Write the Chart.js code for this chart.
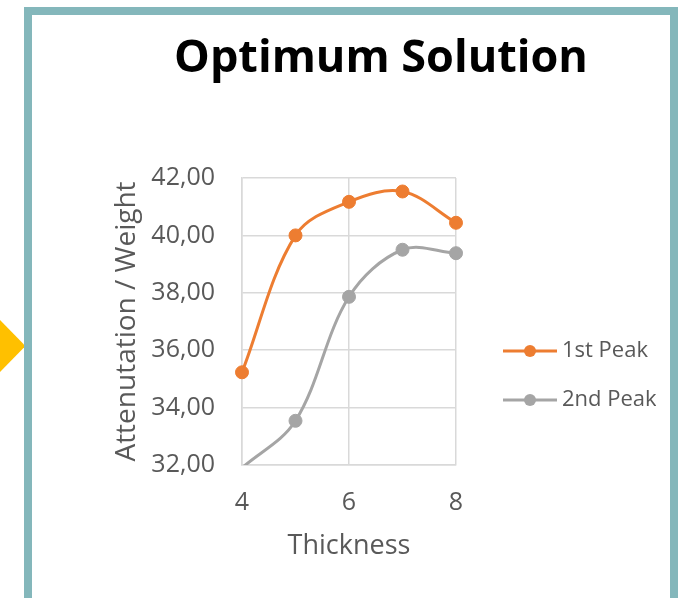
<!DOCTYPE html>
<html>
<head>
<meta charset="utf-8">
<script src="https://cdn.jsdelivr.net/npm/chart.js@4.4.1/dist/chart.umd.min.js"></script>
<style>
  html, body { margin: 0; padding: 0; background: #ffffff; width: 679px; height: 598px; overflow: hidden; }
  #tab { position: absolute; left: 0; top: 320px; width: 24px; height: 52px; background: #ffc000;
         clip-path: polygon(0 0, 100% 47%, 100% 53%, 0 100%); }
  #wrap { position: absolute; left: 0; top: 0; width: 679px; height: 598px; }
  #frame { position: absolute; left: 24px; top: 7px; width: 654px; height: 700px;
           border: 8px solid #84b7bb; box-sizing: border-box; pointer-events: none; }
</style>
</head>
<body>
<div id="tab"></div>
<div id="wrap"><canvas id="chart" width="679" height="598"></canvas></div>
<div id="frame"></div>
<script>
// Thickness values and the two peak series
const thickness = [4, 5, 6, 7, 8];
const firstPeak = [35.23, 40.00, 41.17, 41.53, 40.44];
const secondPeak = [31.90, 33.54, 37.86, 39.50, 39.38];

// Axis tick positions
const xTicks = [4, 6, 8];
const yTicks = [32, 34, 36, 38, 40, 42];

const seriesNames = ['1st Peak', '2nd Peak'];
const seriesColors = ['#ED7D31', '#A5A5A5'];

const FONT = 'Open Sans';
const TEXT = '#595959';
const GRID = '#d9d9d9';

// Legend glyph: a short line with a dot in its middle
function legendGlyph(color) {
  const c = document.createElement('canvas');
  c.width = 80; c.height = 16;
  const g = c.getContext('2d');
  g.strokeStyle = color; g.lineWidth = 3;
  g.beginPath(); g.moveTo(26, 8); g.lineTo(80, 8); g.stroke();
  g.fillStyle = color;
  g.beginPath(); g.arc(53, 8, 6, 0, Math.PI * 2); g.fill();
  return c;
}

const yMin = yTicks[0], yMax = yTicks[yTicks.length - 1];

function series(values, i) {
  return {
    label: seriesNames[i],
    data: thickness.map((t, k) => ({ x: t, y: values[k] })),
    borderColor: seriesColors[i],
    backgroundColor: seriesColors[i],
    borderWidth: 3,
    tension: 0.35,
    pointRadius: ctx => (ctx.raw && ctx.raw.y < yMin ? 0 : 6.5),
    pointBorderWidth: 1,
    pointBorderColor: seriesColors[i],
    pointBackgroundColor: seriesColors[i],
    clip: { left: 10, right: 10, top: 10, bottom: 0 }
  };
}

new Chart(document.getElementById('chart'), {
  type: 'line',
  data: { datasets: [series(firstPeak, 0), series(secondPeak, 1)] },
  options: {
    responsive: false,
    animation: false,
    events: [],
    layout: { padding: { left: 106, right: 23, top: 0, bottom: 0 } },
    scales: {
      x: {
        type: 'linear', min: xTicks[0], max: xTicks[xTicks.length - 1],
        afterBuildTicks: s => { s.ticks = xTicks.map(v => ({ value: v })); },
        afterFit: s => { s.height = 133; },
        ticks: { font: { family: FONT, size: 25 }, color: TEXT, padding: 23 },
        grid: { color: GRID, lineWidth: 1.5, drawTicks: false },
        border: { color: GRID, width: 1.5 },
        title: { display: true, text: 'Thickness', color: TEXT,
                 font: { family: FONT, size: 27 }, padding: { top: 0, bottom: 35 } }
      },
      y: {
        min: yMin, max: yMax,
        afterBuildTicks: s => { s.ticks = yTicks.map(v => ({ value: v })); },
        afterFit: s => { s.width = 136; },
        ticks: { font: { family: FONT, size: 25 }, color: TEXT, padding: 27,
                 callback: v => v.toFixed(2).replace('.', ',') },
        grid: { color: GRID, lineWidth: 1.5, drawTicks: false },
        border: { color: GRID, width: 1.5 },
        title: { display: true, text: 'Attenutation / Weight', color: TEXT,
                 font: { family: FONT, size: 28 }, padding: { top: 4, bottom: 0 } }
      }
    },
    plugins: {
      title: {
        display: true, text: 'Optimum Solution', color: '#000000',
        font: { family: FONT, size: 45, weight: 'bold' },
        padding: { top: 32, bottom: 92 }
      },
      legend: {
        position: 'right', fullSize: false, maxWidth: 200,
        title: { display: true, text: ' ', font: { size: 10 }, padding: { top: 0, bottom: 96 } },
        labels: {
          usePointStyle: true, pointStyleWidth: 68, padding: 27,
          font: { family: FONT, size: 22 }, color: TEXT,
          generateLabels: chart => chart.data.datasets.map((d, i) => ({
            text: d.label, pointStyle: legendGlyph(seriesColors[i]),
            fillStyle: seriesColors[i], strokeStyle: seriesColors[i],
            lineWidth: 0, hidden: false, datasetIndex: i, fontColor: TEXT
          }))
        }
      },
      tooltip: { enabled: false }
    }
  }
});
</script>
</body>
</html>
